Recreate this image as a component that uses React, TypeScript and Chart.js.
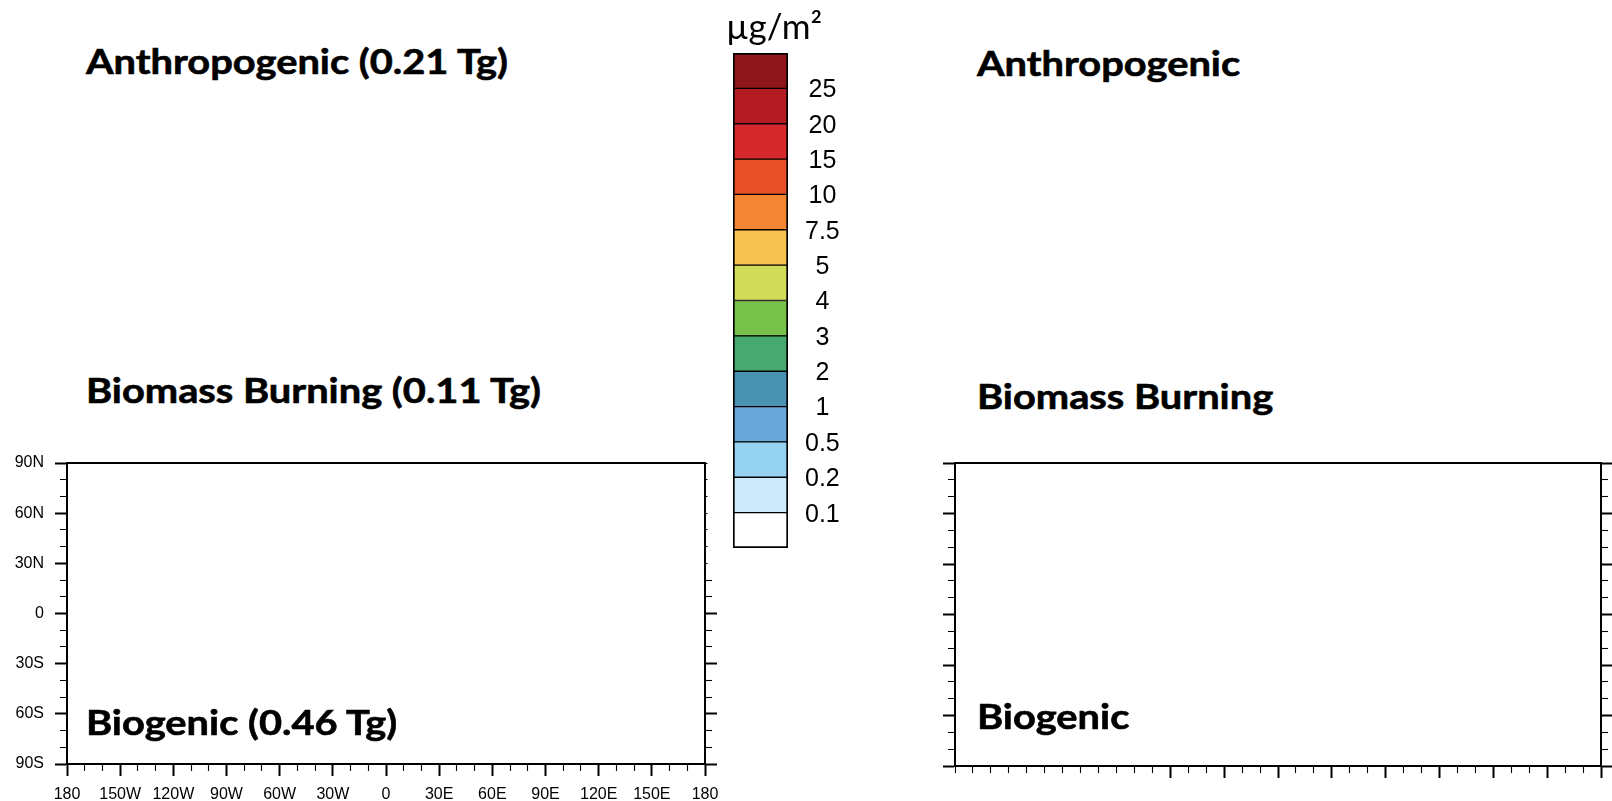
import React, { useEffect, useLayoutEffect, useRef } from 'react';
import { Chart, registerables } from 'chart.js';

Chart.register(...registerables);

// ---------- data ----------
const LON_LABELS = ['180', '150W', '120W', '90W', '60W', '30W', '0', '30E', '60E', '90E', '120E', '150E', '180'];
const LAT_LABELS = ['90S', '60S', '30S', '0', '30N', '60N', '90N'];
const LEVEL_LABELS = ['0.1', '0.2', '0.5', '1', '2', '3', '4', '5', '7.5', '10', '15', '20', '25'];
const LEVEL_COLORS = [
  '#FFFFFF', '#CCEAFA', '#96D3F1', '#68A9DA', '#4A92B2', '#48A970', '#78C24B',
  '#D1DC58', '#F8C350', '#F58634', '#E75029', '#D6292B', '#B31B22', '#8E1519',
];
const LEFT_TITLES = ['Anthropogenic (0.21 Tg)', 'Biomass Burning (0.11 Tg)', 'Biogenic (0.46 Tg)'];
const RIGHT_TITLES = ['Anthropogenic', 'Biomass Burning', 'Biogenic'];
const UNIT_LABEL = 'µg/m²';
const MAP_POINTS: { x: number; y: number }[] = [];

// ---------- helpers ----------
const TL = 12;
type Kind = 'major' | 'minor' | 'stub';

function dashFor(kind: Kind, fromOuter: boolean): number[] {
  if (kind === 'major') return [];
  const len = kind === 'minor' ? 6 : 1.5;
  if (!fromOuter) return [len, 100];
  const L = TL - 1;
  return [0, L - len, len, 100];
}
function widthFor(kind: Kind) {
  return kind === 'major' ? 2 : 1.1;
}

function lonLabel(v: number) {
  if (v % 30 !== 0) return '';
  return LON_LABELS[(v + 180) / 30] ?? '';
}
function latLabel(v: number) {
  if (v % 30 !== 0) return '';
  return LAT_LABELS[(v + 90) / 30] ?? '';
}

interface MapOpts {
  showLabels: boolean;
  leftW: number;
  topH: number;
  rightW: number;
  bottomH: number;
  xKind: (v: number) => Kind;
  yLeftKind: (v: number) => Kind;
  yRightKind: (v: number) => Kind;
}

const TICK_FONT = { family: 'Liberation Sans, Arial, sans-serif', size: 16 };

function tickGrid(kindOf: (v: number) => Kind, fromOuter: boolean) {
  return {
    drawOnChartArea: false,
    drawTicks: true,
    tickLength: TL,
    tickColor: '#000',
    tickWidth: (ctx: any) => widthFor(kindOf(ctx.tick ? ctx.tick.value : 0)),
    tickBorderDash: (ctx: any) => dashFor(kindOf(ctx.tick ? ctx.tick.value : 0), fromOuter),
  };
}

function mapConfig(o: MapOpts): any {
  const border = { display: true, color: '#000', width: 2 };
  return {
    type: 'scatter',
    data: { datasets: [{ data: MAP_POINTS, pointRadius: 0 }] },
    options: {
      responsive: false,
      animation: false,
      devicePixelRatio: 1,
      layout: { padding: 0 },
      plugins: { legend: { display: false }, tooltip: { enabled: false }, title: { display: false } },
      scales: {
        x: {
          type: 'linear',
          position: 'bottom',
          min: -180,
          max: 180,
          ticks: {
            display: o.showLabels,
            stepSize: 10,
            autoSkip: false,
            maxRotation: 0,
            minRotation: 0,
            padding: 9,
            color: '#000',
            font: TICK_FONT,
            callback: (v: any) => lonLabel(Number(v)),
          },
          grid: tickGrid(o.xKind, false),
          border,
          afterFit: (s: any) => { s.height = o.bottomH; },
        },
        xTop: {
          type: 'linear',
          axis: 'x',
          position: 'top',
          min: -180,
          max: 180,
          ticks: { display: false },
          grid: { drawOnChartArea: false, drawTicks: false },
          border,
          afterFit: (s: any) => { s.height = o.topH; },
        },
        y: {
          type: 'linear',
          position: 'left',
          min: -90,
          max: 90,
          ticks: {
            display: o.showLabels,
            stepSize: 10,
            autoSkip: false,
            padding: 11,
            color: '#000',
            font: TICK_FONT,
            callback: (v: any) => latLabel(Number(v)),
          },
          grid: tickGrid(o.yLeftKind, true),
          border,
          afterFit: (s: any) => { s.width = o.leftW; },
        },
        yRight: {
          type: 'linear',
          axis: 'y',
          position: 'right',
          min: -90,
          max: 90,
          ticks: { display: false, stepSize: 10, autoSkip: false },
          grid: tickGrid(o.yRightKind, false),
          border,
          afterFit: (s: any) => { s.width = o.rightW; },
        },
      },
    },
  };
}

function colorbarConfig(): any {
  const n = LEVEL_COLORS.length;
  return {
    type: 'bar',
    data: {
      labels: [''],
      datasets: LEVEL_COLORS.map((c, i) => ({
        data: [1],
        backgroundColor: c,
        borderColor: '#000',
        borderWidth: { top: i === n - 1 ? 2 : 1, bottom: i === 0 ? 2 : 1, left: 2, right: 2 },
        borderSkipped: false,
        barPercentage: 1,
        categoryPercentage: 1,
      })),
    },
    options: {
      responsive: false,
      animation: false,
      devicePixelRatio: 1,
      layout: { padding: { left: 33, top: 53, right: 0, bottom: 32 } },
      plugins: { legend: { display: false }, tooltip: { enabled: false } },
      scales: {
        x: { stacked: true, display: false },
        y: {
          stacked: true,
          position: 'right',
          min: 0,
          max: n,
          ticks: {
            stepSize: 1,
            autoSkip: false,
            padding: 9,
            labelOffset: 2,
            crossAlign: 'center',
            color: '#000',
            font: { family: 'Liberation Sans, Arial, sans-serif', size: 25 },
            callback: (v: any) => LEVEL_LABELS[Number(v) - 1] ?? '',
          },
          grid: { display: false },
          border: { display: false },
          afterFit: (s: any) => { s.width = 72; },
        },
      },
    },
  };
}

function ChartCanvas({ config, left, top, width, height }: { config: () => any; left: number; top: number; width: number; height: number }) {
  const ref = useRef<HTMLCanvasElement | null>(null);
  useEffect(() => {
    if (!ref.current) return;
    const chart = new Chart(ref.current, config());
    return () => chart.destroy();
  }, []);
  return (
    <canvas
      ref={ref}
      width={width}
      height={height}
      style={{ position: 'absolute', left, top, width, height }}
    />
  );
}

const TITLE_FONT = "Lato, 'Open Sans', sans-serif";
const TITLE_TARGET_WIDTH = 422;
const TITLE_SIZE = 35;

function Titles() {
  const refs = useRef<(HTMLDivElement | null)[]>([]);
  useLayoutEffect(() => {
    const first = refs.current[0];
    if (!first) return;
    const w = first.getBoundingClientRect().width;
    const k = w > 0 ? TITLE_TARGET_WIDTH / w : 1;
    refs.current.forEach((el) => {
      if (el) el.style.transform = `scaleX(${k})`;
    });
  }, []);
  const leftTops = [43, 372, 704];
  const rightTops = [45, 378, 698];
  const style = (left: number, top: number): React.CSSProperties => ({
    position: 'absolute',
    left,
    top,
    fontFamily: TITLE_FONT,
    fontWeight: 700,
    fontSize: TITLE_SIZE,
    lineHeight: `${TITLE_SIZE}px`,
    whiteSpace: 'nowrap',
    color: '#000',
    WebkitTextStroke: '0.6px #000',
    transformOrigin: '0 0',
  });
  return (
    <>
      {LEFT_TITLES.map((t, i) => (
        <div key={'l' + i} ref={(el) => { refs.current[i] = el; }} style={style(86, leftTops[i])}>{t}</div>
      ))}
      {RIGHT_TITLES.map((t, i) => (
        <div key={'r' + i} ref={(el) => { refs.current[LEFT_TITLES.length + i] = el; }} style={style(977, rightTops[i])}>{t}</div>
      ))}
    </>
  );
}

export default function App() {
  const normal = (v: number): Kind => (v % 30 === 0 ? 'major' : 'minor');
  return (
    <div style={{ position: 'fixed', left: 0, top: 0, width: 1612, height: 801, background: '#fff', overflow: 'hidden' }}>
      <ChartCanvas
        left={0}
        top={440}
        width={730}
        height={361}
        config={() =>
          mapConfig({
            showLabels: true,
            leftW: 67,
            topH: 23,
            rightW: 25,
            bottomH: 37,
            xKind: normal,
            yLeftKind: normal,
            yRightKind: (v) => (v >= 30 ? 'stub' : normal(v)),
          })
        }
      />
      <ChartCanvas
        left={920}
        top={440}
        width={692}
        height={361}
        config={() =>
          mapConfig({
            showLabels: false,
            leftW: 35,
            topH: 23,
            rightW: 11,
            bottomH: 35,
            xKind: (v) => (v % 30 === 0 && v >= -60 ? 'major' : 'minor'),
            yLeftKind: normal,
            yRightKind: normal,
          })
        }
      />
      <ChartCanvas left={700} top={0} width={160} height={580} config={colorbarConfig} />
      <div
        style={{
          position: 'absolute',
          left: 714,
          top: 8,
          width: 120,
          textAlign: 'center',
          fontFamily: TITLE_FONT,
          fontSize: 35,
          lineHeight: '35px',
          color: '#000',
          whiteSpace: 'nowrap',
        }}
      >
        {UNIT_LABEL}
      </div>
      <Titles />
    </div>
  );
}
